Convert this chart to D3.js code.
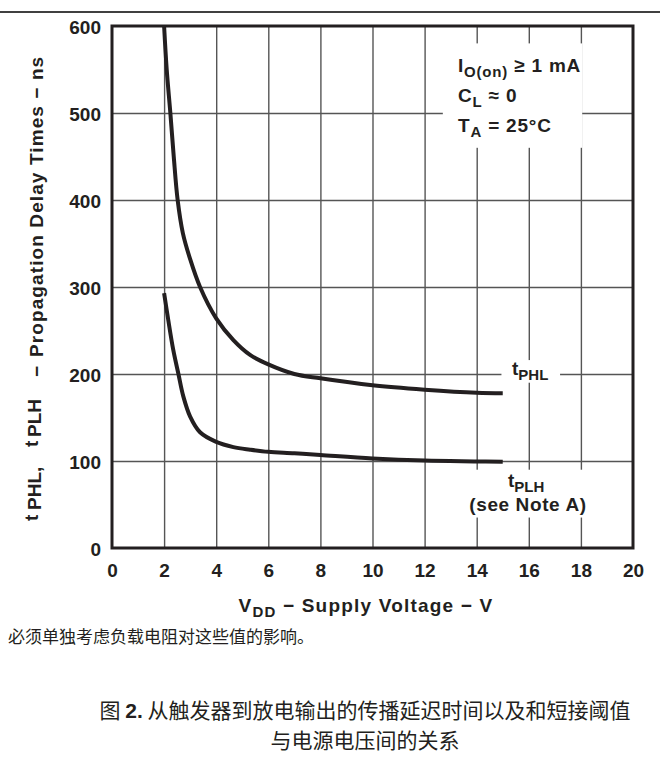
<!DOCTYPE html>
<html>
  <head>
    <meta charset="utf-8" />
    <title>Propagation Delay vs Supply Voltage</title>
    <script src="https://d3js.org/d3.v7.min.js"></script>
    <style>
        body {
            margin: 0;
            background: #fff;
        }
        text {
            font-family: "Liberation Sans", Arial, sans-serif;
            font-weight: bold;
            fill: #231f20;
        }
        .cjk {
            font-family: "Noto Sans CJK SC", sans-serif;
            font-weight: normal;
        }
    </style>
  </head>
  <body>
    <svg id="chart">
        <g id="grid"></g>
        <g id="masks"></g>
        <g id="curves"></g>
        <g id="x"></g>
        <g id="y"></g>
        <g id="labels"></g>
    </svg>

    <script>
        // tick values
        var xTicks = [0, 2, 4, 6, 8, 10, 12, 14, 16, 18, 20];
        var yTicks = [0, 100, 200, 300, 400, 500, 600];

        // tPHL curve (ns vs V)
        var vddPHL = [2.0, 2.1, 2.24, 2.37, 2.52, 2.72, 3.0, 3.38, 4.0, 4.66, 5.3, 6.0, 7.0, 8.0, 10, 12, 14, 15];
        var tPHL   = [600, 550, 500, 450, 400, 362, 332, 300, 264, 239, 222, 211, 200, 195, 187, 182, 178.5, 178];

        // tPLH curve (ns vs V)
        var vddPLH = [2.0, 2.16, 2.35, 2.55, 2.74, 3.0, 3.38, 4.0, 4.66, 5.3, 6.0, 7.0, 8.0, 10, 12, 14, 15];
        var tPLH   = [293, 262, 228, 200, 174, 151, 133, 122, 116, 113, 110.5, 109, 107, 103, 100.5, 99.5, 99];

        var width = 660;
        var height = 772;
        var margin = {top: 26, right: 27, bottom: 224, left: 112};
        var chartWidth = width - margin.left - margin.right;
        var chartHeight = height - margin.top - margin.bottom;
        var ink = "#231f20";

        var svg = d3.select("#chart").attr("width", width).attr("height", height);

        var x = d3.scaleLinear().domain([0, 20]).range([margin.left, margin.left + chartWidth]);
        var y = d3.scaleLinear().domain([0, 600]).range([margin.top + chartHeight, margin.top]);

        // rule across the top of the page
        svg.append("line")
            .attr("x1", 0).attr("x2", width)
            .attr("y1", 12).attr("y2", 12)
            .attr("stroke", "#000").attr("stroke-width", 1.5);

        // grid lines
        var grid = svg.select("#grid");
        grid.append("g")
            .attr("transform", "translate(0," + y(0) + ")")
            .call(d3.axisBottom(x).tickValues(xTicks.slice(1, -1)).tickSize(-chartHeight).tickFormat(""))
            .call(function(g) { g.select(".domain").remove(); })
            .selectAll("line").attr("stroke", "#555").attr("stroke-width", 1.4);
        grid.append("g")
            .attr("transform", "translate(" + x(0) + ",0)")
            .call(d3.axisLeft(y).tickValues(yTicks.slice(1, -1)).tickSize(-chartWidth).tickFormat(""))
            .call(function(g) { g.select(".domain").remove(); })
            .selectAll("line").attr("stroke", "#555").attr("stroke-width", 1.4);

        // white boxes behind the text inside the plot
        var boxes = [
            {x0: 12.7, x1: 18.05, y0: 580, y1: 460},
            {x0: 14.95, x1: 17.2, y0: 216, y1: 190},
            {x0: 13.55, x1: 18.35, y0: 90, y1: 35}
        ];
        svg.select("#masks").selectAll("rect")
            .data(boxes).enter().append("rect")
            .attr("x", function(d) { return x(d.x0); })
            .attr("y", function(d) { return y(d.y0); })
            .attr("width", function(d) { return x(d.x1) - x(d.x0); })
            .attr("height", function(d) { return y(d.y1) - y(d.y0); })
            .attr("fill", "#fff");

        // frame
        svg.append("rect")
            .attr("x", x(0)).attr("y", y(600))
            .attr("width", chartWidth).attr("height", chartHeight)
            .attr("fill", "none").attr("stroke", ink).attr("stroke-width", 3);

        // curves
        var line = d3.line()
            .x(function(d) { return x(d[0]); })
            .y(function(d) { return y(d[1]); })
            .curve(d3.curveCatmullRom.alpha(0.5));

        var series = [d3.zip(vddPHL, tPHL), d3.zip(vddPLH, tPLH)];
        svg.select("#curves").selectAll("path")
            .data(series).enter().append("path")
            .attr("d", line)
            .attr("fill", "none")
            .attr("stroke", ink)
            .attr("stroke-width", 4)
            .attr("stroke-linecap", "butt");

        // axes labels
        svg.select("#x")
            .attr("transform", "translate(0," + y(0) + ")")
            .call(d3.axisBottom(x).tickValues(xTicks).tickSize(0).tickPadding(16))
            .call(function(g) { g.select(".domain").remove(); })
            .selectAll("text").attr("font-size", 19).attr("fill", ink);

        svg.select("#y")
            .attr("transform", "translate(" + x(0) + ",0)")
            .call(d3.axisLeft(y).tickValues(yTicks).tickSize(0).tickPadding(11))
            .call(function(g) { g.select(".domain").remove(); })
            .selectAll("text").attr("font-size", 19).attr("fill", ink).attr("dy", "0.38em");

        svg.selectAll("#x, #y").attr("font-family", null);

        var labels = svg.select("#labels");

        // conditions
        var cond = labels.append("text").attr("font-size", 19).attr("letter-spacing", 0.8);
        cond.append("tspan").attr("x", 458).attr("y", 72).text("I");
        cond.append("tspan").attr("font-size", 15).attr("dy", 5).text("O(on)");
        cond.append("tspan").attr("dy", -5).text(" ≥ 1 mA");
        cond.append("tspan").attr("x", 458).attr("y", 102).text("C");
        cond.append("tspan").attr("font-size", 15).attr("dy", 5).text("L");
        cond.append("tspan").attr("dy", -5).text(" ≈ 0");
        cond.append("tspan").attr("x", 458).attr("y", 132).text("T");
        cond.append("tspan").attr("font-size", 15).attr("dy", 5).text("A");
        cond.append("tspan").attr("dy", -5).text(" = 25°C");

        // curve labels
        var phl = labels.append("text").attr("font-size", 19).attr("x", 512).attr("y", 375);
        phl.append("tspan").text("t");
        phl.append("tspan").attr("font-size", 15).attr("dy", 5).text("PHL");

        var plh = labels.append("text").attr("font-size", 19).attr("x", 508).attr("y", 487);
        plh.append("tspan").text("t");
        plh.append("tspan").attr("font-size", 15).attr("dy", 5).text("PLH");
        labels.append("text").attr("font-size", 19).attr("letter-spacing", 0.6)
            .attr("x", 528).attr("y", 511).attr("text-anchor", "middle")
            .text("(see Note A)");

        // y axis title
        var yt = labels.append("text").attr("font-size", 19).attr("transform", "rotate(-90)");
        yt.append("tspan").attr("x", -521).attr("y", 38).text("t");
        yt.append("tspan").attr("x", -510).attr("y", 41).text("PHL,");
        yt.append("tspan").attr("x", -447).attr("y", 38).text("t");
        yt.append("tspan").attr("x", -437).attr("y", 41).text("PLH");
        yt.append("tspan").attr("x", -377).attr("y", 43).text("−");
        yt.append("tspan").attr("x", -357).attr("y", 43).attr("letter-spacing", 1.1)
            .text("Propagation Delay Times − ns");

        // x axis title
        var xt = labels.append("text").attr("font-size", 19).attr("letter-spacing", 1.2)
            .attr("x", 366).attr("y", 612).attr("text-anchor", "middle");
        xt.append("tspan").text("V");
        xt.append("tspan").attr("font-size", 15).attr("dy", 5).text("DD");
        xt.append("tspan").attr("dy", -5).text(" − Supply Voltage − V");

        // notes under the chart
        labels.append("text").attr("class", "cjk").attr("font-size", 17)
            .attr("x", 8).attr("y", 643)
            .text("必须单独考虑负载电阻对这些值的影响。");

        var cap = labels.append("text").attr("class", "cjk").attr("font-size", 21)
            .attr("x", 365).attr("y", 718).attr("text-anchor", "middle");
        cap.append("tspan").text("图 ");
        cap.append("tspan").style("font-family", "'Liberation Sans', Arial, sans-serif")
            .style("font-weight", "bold").text("2.");
        cap.append("tspan").text(" 从触发器到放电输出的传播延迟时间以及和短接阈值");

        labels.append("text").attr("class", "cjk").attr("font-size", 21)
            .attr("x", 365).attr("y", 748).attr("text-anchor", "middle")
            .text("与电源电压间的关系");
    </script>
  </body>
</html>
